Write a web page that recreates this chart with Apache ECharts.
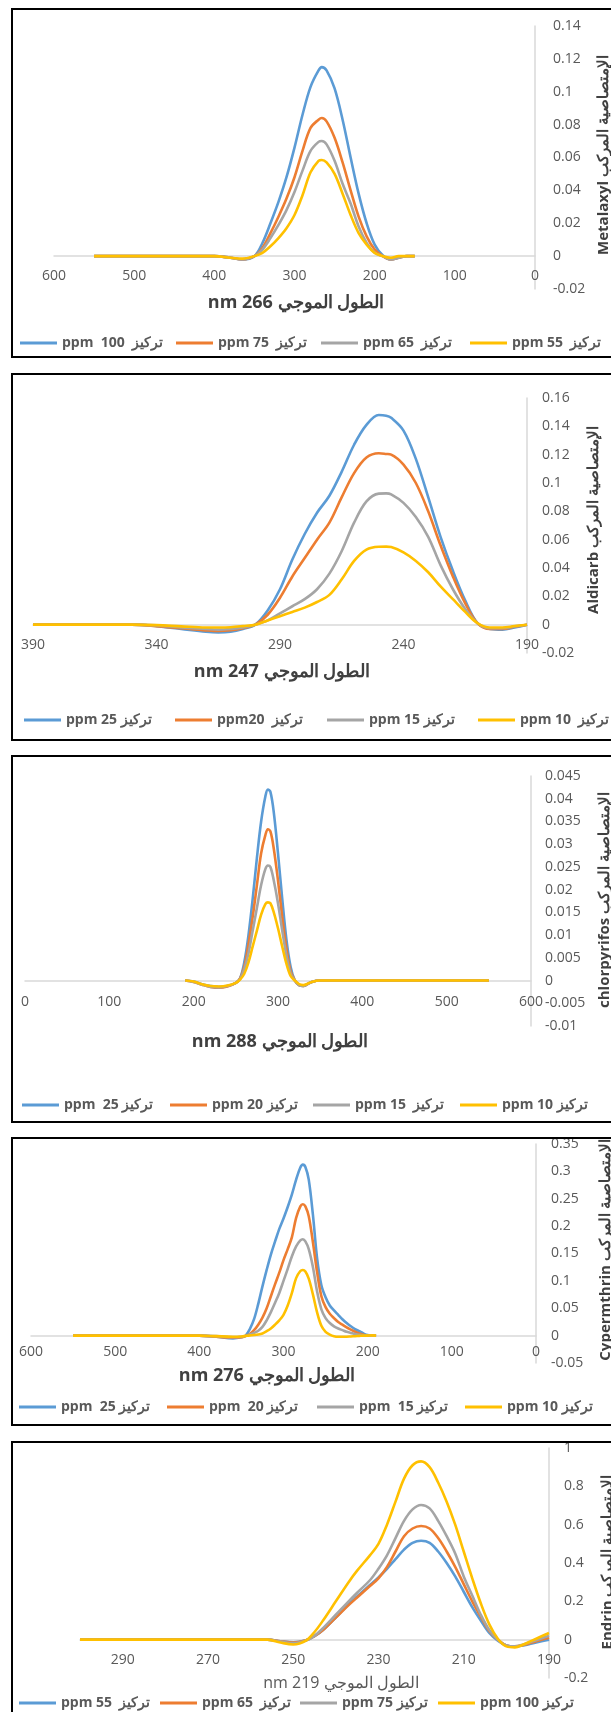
<!DOCTYPE html>
<html>
<head>
<meta charset="utf-8">
<script src="https://cdn.jsdelivr.net/npm/echarts@6/dist/echarts.min.js"></script>
<style>
html,body{margin:0;padding:0;background:#fff;}
#chart{width:611px;height:1712px;}
</style>
</head>
<body>
<div id="chart"></div>
<script>
// ---------- colours ----------
const seriesColors = ['#5B9BD5', '#ED7D31', '#A5A5A5', '#FFC000'];

// ---------- Panel 1 : Metalaxyl ----------
const metalaxylWavelength = [550,500,450,400,380,365,350,340,330,320,310,300,290,280,270,266,260,250,240,230,220,210,200,190,180,170,160,150];
const metalaxyl100 = [0,0,0,0,-0.001,-0.002,0,0.008,0.02,0.033,0.048,0.066,0.086,0.103,0.113,0.115,0.113,0.102,0.083,0.06,0.038,0.02,0.007,0.0005,-0.002,-0.001,0,0];
const metalaxyl75  = [0,0,0,0,-0.001,-0.002,0,0.005,0.014,0.024,0.035,0.048,0.064,0.078,0.083,0.084,0.082,0.072,0.057,0.04,0.024,0.012,0.004,0,-0.002,-0.001,0,0];
const metalaxyl65  = [0,0,0,0,-0.001,-0.002,0,0.004,0.011,0.019,0.028,0.039,0.052,0.064,0.0695,0.070,0.068,0.058,0.044,0.032,0.018,0.008,0.002,0,-0.002,-0.001,0,0];
const metalaxyl55  = [0,0,0,0,-0.001,-0.0015,0,0.002,0.006,0.011,0.017,0.025,0.037,0.051,0.058,0.0585,0.057,0.05,0.038,0.025,0.014,0.007,0.002,0,-0.001,0,0,0];
const metalaxylLegend = ['ppm  100  تركيز', 'ppm 75  تركيز', 'ppm 65  تركيز', 'ppm 55  تركيز'];
const metalaxylXTicks = [0,100,200,300,400,500,600];

// ---------- Panel 2 : Aldicarb ----------
const aldicarbWavelength = [390,370,350,340,330,320,315,310,305,300,295,290,285,280,275,270,265,260,255,250,247,245,240,235,230,225,220,215,210,205,200,195,190];
const aldicarb25 = [0,0,0,-0.001,-0.003,-0.005,-0.0055,-0.005,-0.003,0,0.010,0.025,0.046,0.064,0.079,0.091,0.108,0.127,0.141,0.148,0.1475,0.146,0.137,0.117,0.09,0.062,0.038,0.017,0.001,-0.003,-0.0035,-0.002,0];
const aldicarb20 = [0,0,0,-0.001,-0.0025,-0.004,-0.0045,-0.004,-0.0025,0,0.007,0.019,0.034,0.047,0.060,0.072,0.09,0.107,0.118,0.121,0.1205,0.12,0.113,0.1,0.08,0.056,0.034,0.015,0.001,-0.003,-0.003,-0.0015,0];
const aldicarb15 = [0,0,0,-0.0005,-0.002,-0.003,-0.0035,-0.003,-0.002,0,0.003,0.008,0.013,0.018,0.025,0.036,0.052,0.072,0.087,0.0925,0.0927,0.092,0.086,0.076,0.062,0.042,0.025,0.011,0.001,-0.0025,-0.0025,-0.0012,0];
const aldicarb10 = [0,0,0,-0.0003,-0.0012,-0.002,-0.002,-0.0018,-0.001,0,0.003,0.006,0.009,0.012,0.016,0.021,0.032,0.045,0.053,0.055,0.0551,0.0548,0.051,0.045,0.037,0.027,0.018,0.009,0.001,-0.002,-0.002,-0.001,0];
const aldicarbLegend = ['ppm 25 تركيز', 'ppm20  تركيز', 'ppm 15 تركيز', 'ppm 10  تركيز'];
const aldicarbXTicks = [190,240,290,340,390];

// ---------- Panel 3 : chlorpyrifos ----------
const chlorWavelength = [190,200,210,220,230,240,250,255,260,265,270,275,280,285,288,291,295,300,305,310,315,320,325,330,335,340,350,400,450,500,550];
const chlor25 = [0,-0.0002,-0.0008,-0.0012,-0.0014,-0.0012,-0.0005,0.0005,0.004,0.010,0.018,0.027,0.035,0.0405,0.042,0.0415,0.037,0.028,0.018,0.009,0.003,0,-0.001,-0.0012,-0.0008,-0.0003,0,0,0,0,0];
const chlor20 = [0,-0.0003,-0.0009,-0.0014,-0.0016,-0.0013,-0.0005,0.0004,0.003,0.008,0.014,0.021,0.028,0.032,0.0333,0.0328,0.029,0.022,0.014,0.007,0.002,0,-0.001,-0.0012,-0.0008,-0.0003,0,0,0,0,0];
const chlor15 = [0,-0.0003,-0.0009,-0.0014,-0.0015,-0.0012,-0.0005,0.0003,0.0025,0.006,0.011,0.016,0.021,0.0245,0.0253,0.025,0.022,0.017,0.011,0.0055,0.0015,0,-0.001,-0.0012,-0.0008,-0.0003,0,0,0,0,0];
const chlor10 = [0,-0.0002,-0.0008,-0.0012,-0.0013,-0.0011,-0.0005,0.0002,0.0015,0.004,0.0075,0.011,0.0145,0.0168,0.0172,0.017,0.015,0.0115,0.0075,0.0037,0.001,0,-0.0008,-0.001,-0.0007,-0.0003,0,0,0,0,0];
const chlorLegend = ['ppm  25 تركيز', 'ppm 20 تركيز', 'ppm 15  تركيز', 'ppm 10 تركيز'];
const chlorXTicks = [0,100,200,300,400,500,600];

// ---------- Panel 4 : Cypermthrin ----------
const cyperWavelength = [550,500,450,400,380,360,350,345,340,335,330,325,320,315,310,305,300,295,290,285,280,277,274,270,265,260,255,250,245,240,235,230,225,220,215,210,205,200,195,190];
const cyper25 = [0,0,0,0,-0.002,-0.005,-0.003,0,0.012,0.03,0.058,0.09,0.12,0.148,0.172,0.195,0.214,0.235,0.258,0.285,0.307,0.3123,0.308,0.285,0.22,0.14,0.092,0.07,0.055,0.046,0.038,0.03,0.023,0.017,0.012,0.008,0.004,0.001,0,0];
const cyper20 = [0,0,0,0,-0.002,-0.004,-0.003,-0.0005,0.003,0.01,0.02,0.033,0.05,0.072,0.094,0.115,0.138,0.158,0.18,0.215,0.236,0.24,0.236,0.218,0.17,0.115,0.072,0.052,0.04,0.032,0.025,0.02,0.015,0.011,0.007,0.004,0.0015,0,0,0];
const cyper15 = [0,0,0,0,-0.001,-0.003,-0.002,-0.0005,0.002,0.005,0.009,0.016,0.028,0.043,0.06,0.078,0.1,0.122,0.145,0.163,0.174,0.176,0.172,0.158,0.125,0.08,0.048,0.032,0.023,0.017,0.013,0.01,0.007,0.005,0.003,0.0015,0.0005,0,0,0];
const cyper10 = [0,0,0,0,-0.001,-0.002,-0.0015,-0.0005,0.0005,0.001,0.002,0.004,0.008,0.013,0.02,0.028,0.038,0.055,0.078,0.105,0.118,0.12,0.117,0.104,0.075,0.042,0.018,0.007,0.002,-0.001,-0.002,-0.002,-0.002,-0.0015,-0.001,-0.0005,0,0,0.0005,0];
const cyperLegend = ['ppm  25 تركيز', 'ppm  20 تركيز', 'ppm  15 تركيز', 'ppm 10 تركيز'];
const cyperXTicks = [0,100,200,300,400,500,600];

// ---------- Panel 5 : Endrin ----------
const endrinWavelength = [300,290,280,270,260,256,253,250,247,245,243,240,237,235,232,230,228,226,224,222,220,218,216,214,212,210,208,206,204,202,200,198,196,194,192,190];
const endrin55  = [0,0,0,0,0,0,-0.008,-0.014,-0.003,0.018,0.05,0.115,0.185,0.225,0.285,0.325,0.37,0.42,0.47,0.505,0.516,0.505,0.46,0.4,0.33,0.25,0.17,0.1,0.035,-0.005,-0.03,-0.035,-0.03,-0.02,-0.01,0];
const endrin65  = [0,0,0,0,0,0,-0.008,-0.015,-0.003,0.018,0.05,0.115,0.18,0.22,0.28,0.32,0.38,0.46,0.54,0.58,0.593,0.58,0.53,0.46,0.38,0.29,0.2,0.12,0.045,0,-0.03,-0.035,-0.028,-0.015,-0.002,0.01];
const endrin75  = [0,0,0,0,0,0,-0.01,-0.018,-0.004,0.02,0.06,0.13,0.2,0.245,0.31,0.37,0.44,0.53,0.62,0.68,0.703,0.685,0.62,0.54,0.45,0.33,0.23,0.13,0.05,0,-0.03,-0.035,-0.025,-0.01,0.005,0.02];
const endrin100 = [0,0,0,0,0,0,-0.015,-0.025,-0.005,0.04,0.1,0.2,0.3,0.36,0.44,0.5,0.6,0.72,0.84,0.91,0.93,0.9,0.82,0.72,0.6,0.46,0.32,0.19,0.08,0.005,-0.035,-0.04,-0.025,-0.005,0.015,0.035];
const endrinLegend = ['ppm 55  تركيز', 'ppm 65  تركيز', 'ppm 75 تركيز', 'ppm 100 تركيز'];
const endrinXTicks = [190,210,230,250,270,290];

// ---------- titles ----------
const xTitles = ['nm 266 الطول الموجي', 'nm 247 الطول الموجي', 'nm 288 الطول الموجي', 'nm 276 الطول الموجي', 'nm 219 الطول الموجي'];
const yTitles = ['Metalaxyl الإمتصاصية المركب', 'Aldicarb الإمتصاصية المركب', 'chlorpyrifos الإمتصاصية المركب', 'Cypermthrin الإمتصاصية المركب', 'Endrin الإمتصاصية المركب'];

// ---------- layout (positions / styles only) ----------
const panels = [
  { wl: metalaxylWavelength, ys: [metalaxyl100, metalaxyl75, metalaxyl65, metalaxyl55], legend: metalaxylLegend, xTicks: metalaxylXTicks,
    grid: {left: 54, right: 76, top: 26, bottom: 1423}, xr: {min: 0, max: 600, inverse: true}, yr: {min: -0.02, max: 0.14, interval: 0.02},
    xMargin: -20, yMargin: 18, legendY: 343, legendX: [20, 176, 321, 470],
    xTitlePos: [296, 303], xBold: true, yTitlePos: [604, 155], box: [9, 357] },
  { wl: aldicarbWavelength, ys: [aldicarb25, aldicarb20, aldicarb15, aldicarb10], legend: aldicarbLegend, xTicks: aldicarbXTicks,
    grid: {left: 33, right: 84, top: 398, bottom: 1059}, xr: {min: 190, max: 390, inverse: true}, yr: {min: -0.02, max: 0.16, interval: 0.02},
    xMargin: -15, yMargin: 15, legendY: 720, legendX: [24, 175, 327, 478],
    xTitlePos: [282, 672], xBold: true, yTitlePos: [594, 520], box: [374, 740] },
  { wl: chlorWavelength, ys: [chlor25, chlor20, chlor15, chlor10], legend: chlorLegend, xTicks: chlorXTicks,
    grid: {left: 25, right: 80, top: 776, bottom: 686}, xr: {min: 0, max: 600, inverse: false}, yr: {min: -0.01, max: 0.045, interval: 0.005},
    xMargin: -31, yMargin: 14, legendY: 1105, legendX: [22, 170, 313, 460],
    xTitlePos: [280, 1042], xBold: true, yTitlePos: [605, 900], box: [756, 1122] },
  { wl: cyperWavelength, ys: [cyper25, cyper20, cyper15, cyper10], legend: cyperLegend, xTicks: cyperXTicks,
    grid: {left: 31, right: 75, top: 1144, bottom: 349}, xr: {min: 0, max: 600, inverse: true}, yr: {min: -0.05, max: 0.35, interval: 0.05},
    xMargin: -18, yMargin: 15, legendY: 1407, legendX: [19, 167, 317, 465],
    xTitlePos: [267, 1376], xBold: true, yTitlePos: [606, 1250], box: [1138, 1425] },
  { wl: endrinWavelength, ys: [endrin55, endrin65, endrin75, endrin100], legend: endrinLegend, xTicks: endrinXTicks,
    grid: {left: 80, right: 62, top: 1448, bottom: 34}, xr: {min: 190, max: 300, inverse: true}, yr: {min: -0.2, max: 1, interval: 0.2},
    xMargin: -25, yMargin: 15, legendY: 1703, legendX: [19, 160, 300, 438],
    xTitlePos: [341, 1683], xBold: false, yTitlePos: [608, 1562], box: [1442, 1760] }
];

const tickFont = 'Open Sans';
const axisGray = '#D9D9D9';
const textGray = '#595959';

const option = {
  animation: false,
  backgroundColor: '#ffffff',
  grid: [], xAxis: [], yAxis: [], series: [], legend: [], graphic: []
};

panels.forEach((p, pi) => {
  option.grid.push(Object.assign({containLabel: false}, p.grid));
  option.xAxis.push({
    gridIndex: pi, type: 'value', min: p.xr.min, max: p.xr.max, inverse: p.xr.inverse,
    axisLine: {show: true, onZero: true, lineStyle: {color: axisGray, width: 1.5}},
    axisTick: {show: false}, splitLine: {show: false},
    axisLabel: {customValues: p.xTicks, color: textGray, fontFamily: tickFont, fontSize: 14, margin: p.xMargin}
  });
  option.yAxis.push({
    gridIndex: pi, type: 'value', position: 'right', min: p.yr.min, max: p.yr.max, interval: p.yr.interval,
    axisLine: {show: true, onZero: false, lineStyle: {color: axisGray, width: 1.5}},
    axisTick: {show: false}, splitLine: {show: false},
    axisLabel: {color: textGray, fontFamily: tickFont, fontSize: 14, margin: p.yMargin}
  });
  p.ys.forEach((ys, si) => {
    const name = 'panel' + pi + '_series' + si;
    option.series.push({
      name: name, type: 'line', xAxisIndex: pi, yAxisIndex: pi,
      data: p.wl.map((w, i) => [w, ys[i]]),
      smooth: 0.35, symbol: 'none', clip: false,
      lineStyle: {width: 2.6, color: seriesColors[si]},
      itemStyle: {color: seriesColors[si]},
      z: 2 + si
    });
    option.legend.push({
      data: [name], left: p.legendX[si], top: p.legendY - 7, padding: 0,
      icon: 'rect', itemWidth: 37, itemHeight: 3, selectedMode: false,
      formatter: p.legend[si],
      textStyle: {fontFamily: tickFont, fontWeight: 'bold', fontSize: 14, color: textGray, lineHeight: 14}
    });
  });
  // panel frame
  option.graphic.push({
    type: 'rect', silent: true, z: 100,
    shape: {x: 12, y: p.box[0], width: 640, height: p.box[1] - p.box[0]},
    style: {fill: 'transparent', stroke: '#000000', lineWidth: 2}
  });
  // x-axis title
  option.graphic.push({
    type: 'text', silent: true, x: p.xTitlePos[0], y: p.xTitlePos[1],
    style: {text: xTitles[pi], fontFamily: tickFont, fontSize: p.xBold ? 18 : 16, fontWeight: p.xBold ? 'bold' : 'normal',
            fill: p.xBold ? '#404040' : textGray, align: 'center', verticalAlign: 'middle'}
  });
  // y-axis title
  option.graphic.push({
    type: 'text', silent: true, x: p.yTitlePos[0], y: p.yTitlePos[1], rotation: Math.PI / 2,
    style: {text: yTitles[pi], fontFamily: tickFont, fontSize: 15, fontWeight: 'bold',
            fill: '#404040', align: 'center', verticalAlign: 'middle'}
  });
});

const chart = echarts.init(document.getElementById('chart'), null, {renderer: 'canvas', width: 611, height: 1712});
chart.setOption(option);
</script>
</body>
</html>
